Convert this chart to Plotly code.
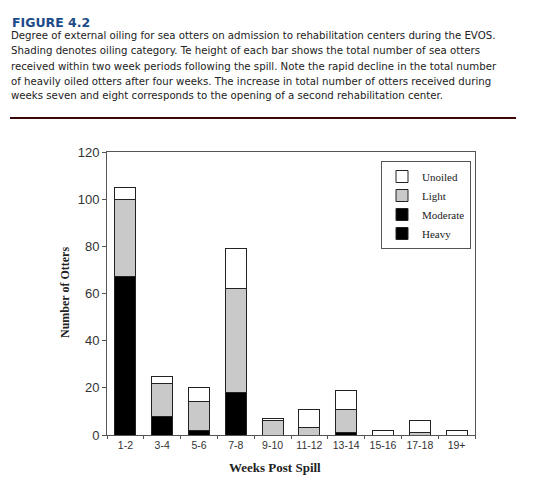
import plotly.graph_objects as go

# two-week periods after the spill
weeks = ['1-2', '3-4', '5-6', '7-8', '9-10', '11-12', '13-14', '15-16', '17-18', '19+']

# otters per oiling category (heavy + moderate print as one black block)
heavy = [67, 8, 2, 18, 0, 0, 1, 0, 0, 0]
moderate = [0, 0, 0, 0, 0, 0, 0, 0, 0, 0]
light = [33, 14, 12, 44, 6, 3, 10, 0, 1, 0]
unoiled = [5, 3, 6, 17, 1, 8, 8, 2, 5, 2]

caption_lines = [
    'Degree of external oiling for sea otters on admission to rehabilitation centers during the EVOS.',
    'Shading denotes oiling category. Te height of each bar shows the total number of sea otters',
    'received within two week periods following the spill. Note the rapid decline in the total number',
    'of heavily oiled otters after four weeks. The increase in total number of otters received during',
    'weeks seven and eight corresponds to the opening of a second rehabilitation center.',
]

OFF = 8                          # page body margin
W, H = 550 - OFF, 492 - OFF
L, R, T, B = 107, 475, 152, 435   # plot area in window pixels


def px(x):
    return (x - L) / (R - L)


def py(y):
    return (B - y) / (B - T)


fig = go.Figure()
series = [('Heavy', heavy, '#000000'), ('Moderate', moderate, '#000000'),
          ('Light', light, '#c9c9c9'), ('Unoiled', unoiled, '#ffffff')]
for name, vals, col in series:
    fig.add_trace(go.Bar(x=weeks, y=vals, name=name, width=0.57,
                         marker=dict(color=col, line=dict(color='#222222', width=1))))

fig.update_layout(
    width=W, height=H, barmode='stack',
    paper_bgcolor='white', plot_bgcolor='white',
    margin=dict(l=L - OFF, r=W - (R - OFF), t=T - OFF, b=H - (B - OFF), pad=0),
    font=dict(family='Liberation Sans, Arial', color='#333333'),
    legend=dict(x=px(381), y=py(161), xanchor='left', yanchor='top',
                traceorder='reversed', bordercolor='#555555', borderwidth=1,
                bgcolor='white', font=dict(family='Liberation Serif, Times New Roman', size=11, color='#222222')),
    showlegend=True,
)
fig.update_xaxes(type='category', range=[-0.5, 9.5], showline=True, linecolor='#555555', linewidth=1,
                 mirror=True, ticks='outside', ticklen=3, tickcolor='#555555', tickson='boundaries',
                 tickangle=0, tickfont=dict(size=10.5, color='#333333'), showgrid=False)
fig.update_yaxes(range=[0, 120], dtick=20, showline=True, linecolor='#555555', linewidth=1, mirror=True,
                 ticks='outside', ticklen=4, tickcolor='#555555', ticklabelstandoff=0,
                 tickfont=dict(size=13, color='#333333'), showgrid=False, zeroline=False)

fig.add_annotation(text='<b>FIGURE 4.2</b>', xref='paper', yref='paper', x=px(10), y=py(13),
                   xanchor='left', yanchor='top', showarrow=False,
                   font=dict(family='DejaVu Sans', size=12.5, color='#1d4b8a'))
for i, line in enumerate(caption_lines):
    fig.add_annotation(text=line, xref='paper', yref='paper', x=px(9), y=py(36 + 15 * i),
                       xanchor='left', yanchor='middle', showarrow=False,
                       font=dict(family='DejaVu Sans', size=10.2, color='#222222'))
fig.add_shape(type='line', xref='paper', yref='paper', x0=px(10), x1=px(516), y0=py(118), y1=py(118),
              line=dict(color='#3a0808', width=2))
fig.add_annotation(text='<b>Number of Otters</b>', xref='paper', yref='paper', x=px(65), y=py(293),
                   xanchor='center', yanchor='middle', textangle=-90, showarrow=False,
                   font=dict(family='Liberation Serif, Times New Roman', size=12, color='#222222'))
fig.add_annotation(text='<b>Weeks Post Spill</b>', xref='paper', yref='paper', x=px(275), y=py(467),
                   xanchor='center', yanchor='middle', showarrow=False,
                   font=dict(family='Liberation Serif, Times New Roman', size=13, color='#222222'))

fig.write_html('out.html')
